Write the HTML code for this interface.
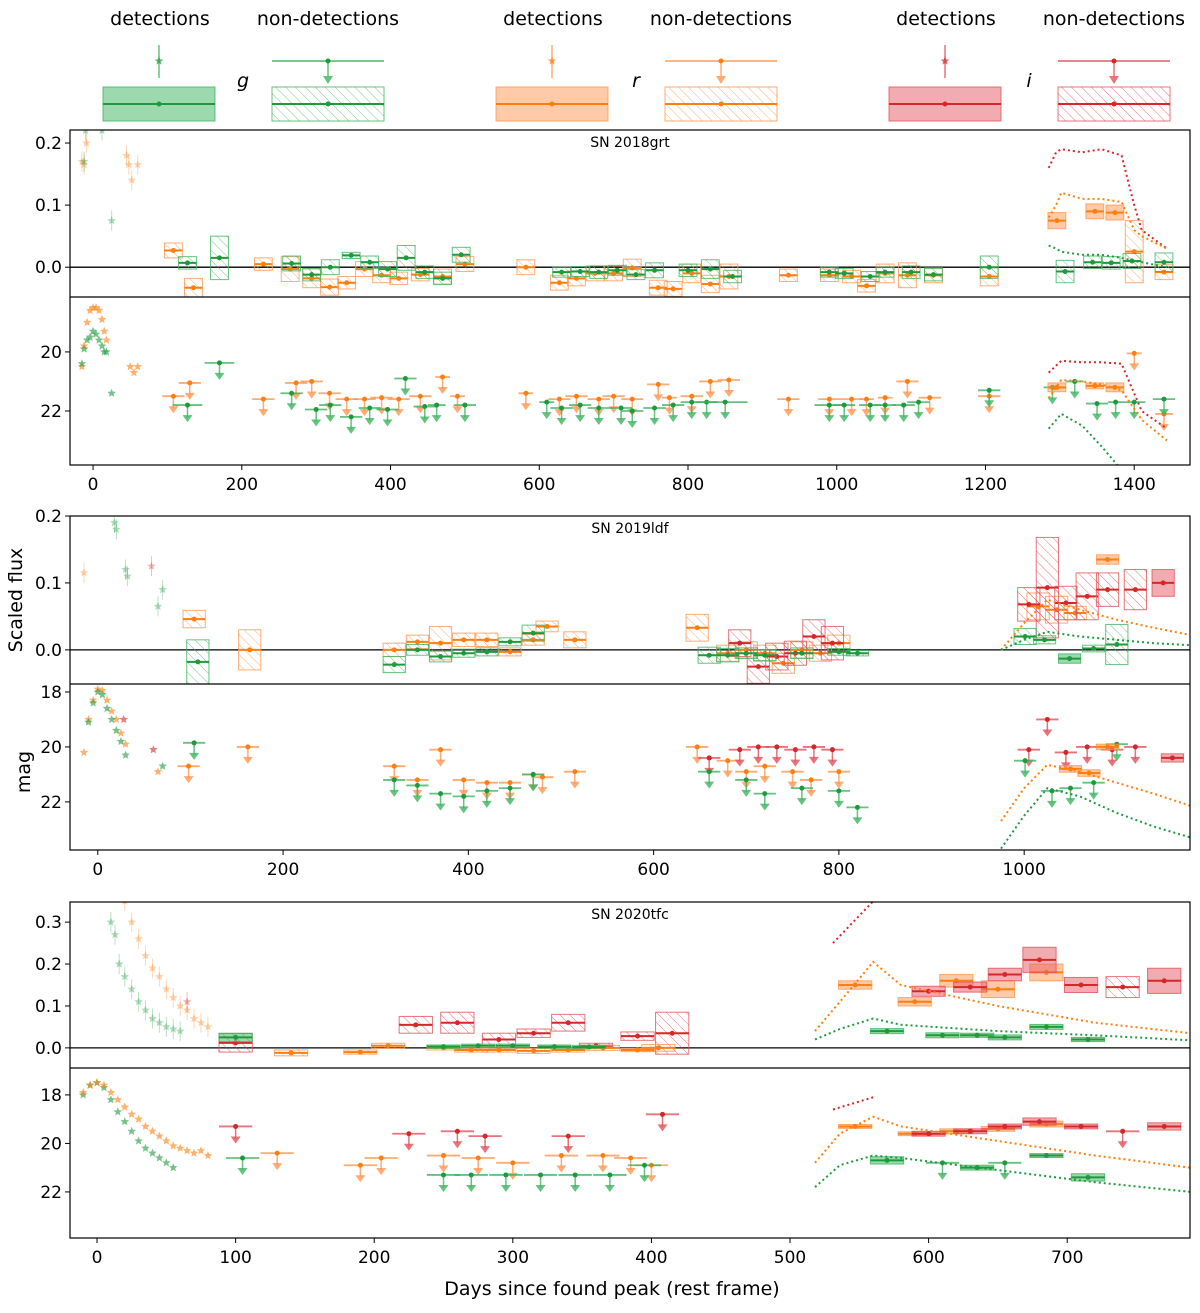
<!DOCTYPE html>
<html><head><meta charset="utf-8"><style>
html,body{margin:0;padding:0;background:#fff;}
svg text{font-family:"DejaVu Sans","Liberation Sans",sans-serif;}
</style></head><body>
<svg id="chart" xmlns="http://www.w3.org/2000/svg" width="1200" height="1308" viewBox="0 0 1200 1308">
<defs>
<pattern id="hat-g" patternUnits="userSpaceOnUse" width="7" height="7" patternTransform="rotate(-45)"><line x1="0" y1="0" x2="0" y2="7" stroke="#3cb45a" stroke-opacity="0.7" stroke-width="1"/></pattern>
<pattern id="hat-r" patternUnits="userSpaceOnUse" width="7" height="7" patternTransform="rotate(-45)"><line x1="0" y1="0" x2="0" y2="7" stroke="#ff8c3a" stroke-opacity="0.7" stroke-width="1"/></pattern>
<pattern id="hat-i" patternUnits="userSpaceOnUse" width="7" height="7" patternTransform="rotate(-45)"><line x1="0" y1="0" x2="0" y2="7" stroke="#dc3c46" stroke-opacity="0.7" stroke-width="1"/></pattern>
</defs>
<g id="legend"></g>
<g id="plots"></g>
<text x="0" y="0" transform="translate(22,600) rotate(-90)" text-anchor="middle" font-size="19">Scaled flux</text>
<text x="0" y="0" transform="translate(30,772) rotate(-90)" text-anchor="middle" font-size="19">mag</text>
<text x="612" y="1295" text-anchor="middle" font-size="19">Days since found peak (rest frame)</text>
</svg>
<script>
const NS="http://www.w3.org/2000/svg";
const LINE={g:"#1e9a3c",r:"#ff7f0e",i:"#d62728"};
const FILL={g:"rgba(60,180,95,0.5)",r:"rgba(255,150,80,0.5)",i:"rgba(230,90,100,0.5)"};
const EDGE={g:"rgba(60,180,95,0.8)",r:"rgba(255,150,80,0.8)",i:"rgba(225,80,90,0.8)"};

// ---------- DATA: SN 2018grt ----------
const p1FluxBins=[
[108,0.027,12,0.012,'r',0],[135,-0.033,12,0.015,'r',0],[229,0.005,12,0.01,'r',0],[265,-0.003,12,0.02,'r',0],[294,-0.018,12,0.015,'r',0],[318,-0.032,12,0.013,'r',0],[341,-0.025,12,0.01,'r',0],[365,-0.003,12,0.012,'r',0],[388,-0.013,12,0.012,'r',0],[411,-0.018,12,0.01,'r',0],[440,-0.012,12,0.01,'r',0],[470,-0.015,12,0.012,'r',0],[500,0.005,12,0.012,'r',0],[582,0.0,12,0.012,'r',0],[627,-0.025,12,0.012,'r',0],[650,-0.018,12,0.012,'r',0],[675,-0.01,12,0.012,'r',0],[700,-0.01,12,0.012,'r',0],[725,-0.001,12,0.014,'r',0],[760,-0.033,12,0.012,'r',0],[780,-0.035,12,0.012,'r',0],[805,-0.01,12,0.015,'r',0],[830,-0.027,12,0.014,'r',0],[855,-0.015,12,0.02,'r',0],[935,-0.013,12,0.01,'r',0],[990,-0.013,12,0.01,'r',0],[1020,-0.015,12,0.01,'r',0],[1040,-0.03,12,0.01,'r',0],[1065,-0.01,12,0.015,'r',0],[1095,-0.013,12,0.02,'r',0],[1130,-0.013,12,0.012,'r',0],[1205,-0.015,12,0.015,'r',0],[1400,0.025,12,0.05,'r',0],[1440,-0.008,12,0.012,'r',0],
[1296,0.075,12,0.013,'r',1],[1347,0.09,12,0.012,'r',1],[1374,0.088,12,0.012,'r',1],
[127,0.007,12,0.01,'g',0],[170,0.015,12,0.035,'g',0],[267,0.006,12,0.012,'g',0],[294,-0.012,12,0.01,'g',0],[319,0.0,12,0.012,'g',0],[347,0.019,12,0.005,'g',0],[372,0.008,12,0.01,'g',0],[396,-0.003,12,0.012,'g',0],[421,0.015,12,0.02,'g',0],[446,-0.008,12,0.01,'g',0],[470,-0.018,12,0.01,'g',0],[495,0.02,12,0.012,'g',0],[630,-0.008,12,0.008,'g',0],[655,-0.007,12,0.008,'g',0],[680,-0.008,12,0.01,'g',0],[705,-0.005,12,0.008,'g',0],[730,-0.012,12,0.008,'g',0],[755,-0.005,12,0.012,'g',0],[800,-0.005,12,0.01,'g',0],[830,-0.003,12,0.015,'g',0],[860,-0.015,12,0.01,'g',0],[990,-0.008,12,0.008,'g',0],[1010,-0.01,12,0.008,'g',0],[1045,-0.015,12,0.008,'g',0],[1065,-0.008,12,0.008,'g',0],[1100,-0.008,12,0.01,'g',0],[1130,-0.012,12,0.01,'g',0],[1205,0.0,12,0.018,'g',0],[1307,-0.007,12,0.018,'g',0],[1344,0.008,12,0.01,'g',0],[1369,0.007,12,0.01,'g',0],[1397,0.01,12,0.012,'g',0],[1440,0.008,12,0.015,'g',0]];
const p1MagLimits=[
[108,21.5,15,'r'],[130,21.05,15,'r'],[229,21.6,15,'r'],[273,21.05,15,'r'],[294,21.0,15,'r'],[318,21.4,15,'r'],[341,21.6,15,'r'],[365,21.6,15,'r'],[388,21.55,15,'r'],[411,21.6,15,'r'],[440,21.5,15,'r'],[470,20.85,10,'r'],[490,21.5,10,'r'],[582,21.4,10,'r'],[627,21.6,15,'r'],[650,21.5,15,'r'],[680,21.6,15,'r'],[700,21.5,15,'r'],[725,21.6,15,'r'],[760,21.1,15,'r'],[775,21.55,10,'r'],[805,21.5,15,'r'],[830,21.0,15,'r'],[855,20.95,15,'r'],[935,21.6,15,'r'],[990,21.6,15,'r'],[1020,21.6,15,'r'],[1040,21.6,10,'r'],[1065,21.55,10,'r'],[1095,21.0,15,'r'],[1125,21.55,15,'r'],[1205,21.5,15,'r'],[1400,20.05,10,'r'],[1440,22.1,12,'r'],
[127,21.8,20,'g'],[170,20.37,20,'g'],[267,21.4,15,'g'],[300,21.95,15,'g'],[319,21.8,15,'g'],[347,22.2,15,'g'],[372,21.9,15,'g'],[396,21.95,15,'g'],[420,20.9,15,'g'],[446,21.85,15,'g'],[462,21.8,12,'g'],[500,21.8,15,'g'],[610,21.7,10,'g'],[630,21.9,15,'g'],[655,21.8,15,'g'],[680,21.9,15,'g'],[710,21.9,15,'g'],[725,22.0,15,'g'],[755,21.9,15,'g'],[780,21.8,15,'g'],[805,21.7,15,'g'],[825,21.7,15,'g'],[850,21.7,30,'g'],[990,21.8,20,'g'],[1010,21.8,15,'g'],[1045,21.8,15,'g'],[1065,21.8,15,'g'],[1090,21.8,15,'g'],[1110,21.7,15,'g'],[1205,21.3,15,'g'],[1290,21.2,12,'g'],[1320,21.0,12,'g'],[1350,21.75,15,'g'],[1375,21.7,10,'g'],[1400,21.7,15,'g'],[1440,21.6,15,'g']];
const p1MagDets=[[1296,21.2,12,0.15,'r'],[1347,21.15,12,0.1,'r'],[1374,21.2,12,0.15,'r']];
const p1FluxStars=[[-15,0.17,'r'],[-12,0.165,'r'],[-9,0.2,'r'],[45,0.18,'r'],[48,0.165,'r'],[52,0.14,'r'],[60,0.165,'r'],[-12,0.17,'g'],[-10,0.22,'g'],[25,0.075,'g'],[12,0.22,'g']];
const p1MagStars=[[-15,20.5,'r'],[-12,19.8,'r'],[-8,19.0,'r'],[-4,18.6,'r'],[0,18.5,'r'],[4,18.5,'r'],[8,18.6,'r'],[12,18.9,'r'],[15,19.3,'r'],[18,19.6,'r'],[50,20.5,'r'],[55,20.7,'r'],[60,20.5,'r'],
[-15,20.4,'g'],[-12,19.9,'g'],[-8,19.6,'g'],[-4,19.5,'g'],[0,19.3,'g'],[4,19.4,'g'],[8,19.6,'g'],[12,19.8,'g'],[15,20.0,'g'],[18,20.0,'g'],[25,21.4,'g']];
const p1FluxModelDays=[1285,1295,1302,1330,1356,1383,1400,1410,1444];
const p1FluxModelI=[0.16,0.185,0.19,0.185,0.19,0.18,0.1,0.06,0.03];
const p1FluxModelR=[0.08,0.1,0.12,0.11,0.11,0.105,0.06,0.05,0.03];
const p1FluxModelG=[0.035,0.03,0.025,0.02,0.02,0.015,0.01,0.008,0.0];
const p1MagModelDays=[1285,1302,1330,1356,1383,1410,1444];
const p1MagModelI=[20.7,20.3,20.35,20.35,20.4,22.0,22.6];
const p1MagModelR=[21.56,20.95,21.0,21.1,21.3,22.3,23.0];
const p1MagModelG=[22.6,22.1,22.5,23.2,24.0,24.5,25];

// ---------- DATA: SN 2019ldf ----------
const p2FluxBins=[
[104,0.046,12,0.013,'r',0],[164,0.0,12,0.03,'r',0],[320,0.0,12,0.01,'r',0],[345,0.012,12,0.01,'r',0],[370,0.01,12,0.025,'r',0],[395,0.015,12,0.01,'r',0],[420,0.015,12,0.01,'r',0],[445,-0.003,12,0.006,'r',0],[470,0.015,12,0.008,'r',0],[485,0.035,12,0.008,'r',0],[515,0.015,12,0.012,'r',0],[647,0.033,12,0.02,'r',0],[655,-0.07,12,0.015,'r',0],[680,-0.005,12,0.012,'r',0],[700,0.0,12,0.012,'r',0],[720,-0.005,12,0.012,'r',0],[740,-0.02,12,0.015,'r',0],[760,0.0,12,0.012,'r',0],[780,-0.005,12,0.012,'r',0],[800,0.01,12,0.012,'r',0],[1015,0.065,12,0.02,'r',0],[1035,0.06,12,0.02,'r',0],[1055,0.055,12,0.01,'r',0],[1090,0.135,12,0.007,'r',1],
[693,0.01,12,0.02,'i',0],[713,-0.025,12,0.025,'i',0],[733,-0.01,12,0.02,'i',0],[753,-0.005,12,0.018,'i',0],[773,0.02,12,0.025,'i',0],[793,0.01,12,0.025,'i',0],[1005,0.068,12,0.025,'i',0],[1025,0.093,12,0.075,'i',0],[1045,0.07,12,0.025,'i',0],[1068,0.08,12,0.035,'i',0],[1090,0.09,12,0.025,'i',0],[1120,0.09,12,0.03,'i',0],[1150,0.1,12,0.02,'i',1],
[108,-0.018,12,0.033,'g',0],[320,-0.022,12,0.012,'g',0],[345,0.0,12,0.008,'g',0],[370,-0.01,12,0.008,'g',0],[395,-0.005,12,0.006,'g',0],[420,-0.003,12,0.006,'g',0],[445,0.012,12,0.006,'g',0],[470,0.025,12,0.012,'g',0],[660,-0.008,12,0.012,'g',0],[680,-0.008,12,0.01,'g',0],[700,-0.005,12,0.008,'g',0],[720,-0.008,12,0.008,'g',0],[760,-0.005,12,0.008,'g',0],[800,-0.003,12,0.005,'g',0],[820,-0.005,12,0.004,'g',0],[1001,0.02,12,0.012,'g',0],[1022,0.015,12,0.006,'g',0],[1049,-0.013,12,0.007,'g',1],[1075,0.002,12,0.005,'g',0],[1100,0.008,12,0.03,'g',0]];
const p2MagLimits=[
[98,20.7,12,'r'],[162,20.0,12,'r'],[320,20.7,12,'r'],[345,21.2,12,'r'],[370,20.1,12,'r'],[395,21.2,12,'r'],[420,21.3,12,'r'],[445,21.3,12,'r'],[470,21.0,12,'r'],[480,21.1,12,'r'],[515,20.9,12,'r'],[647,20.0,12,'r'],[680,20.5,12,'r'],[700,20.9,12,'r'],[720,20.7,12,'r'],[750,20.9,12,'r'],[770,21.2,12,'r'],[800,20.9,12,'r'],
[660,20.4,12,'i'],[693,20.1,12,'i'],[713,20.0,12,'i'],[733,20.0,12,'i'],[753,20.1,12,'i'],[773,20.0,12,'i'],[793,20.1,12,'i'],[1005,20.1,12,'i'],[1025,19.0,12,'i'],[1045,20.2,12,'i'],[1068,20.0,12,'i'],[1095,20.1,12,'i'],[1120,20.0,12,'i'],
[104,19.85,12,'g'],[320,21.2,12,'g'],[345,21.4,12,'g'],[370,21.7,12,'g'],[395,21.8,12,'g'],[420,21.6,12,'g'],[445,21.5,12,'g'],[470,21.0,12,'g'],[660,20.9,12,'g'],[700,21.2,12,'g'],[720,21.7,12,'g'],[760,21.5,12,'g'],[800,21.6,12,'g'],[820,22.2,12,'g'],[1001,20.5,12,'g'],[1030,21.6,12,'g'],[1050,21.5,12,'g'],[1075,21.3,12,'g'],[1100,19.9,12,'g']];
const p2MagDets=[[1050,20.8,12,0.12,'r'],[1070,20.95,12,0.12,'r'],[1090,20.0,12,0.1,'r'],[1160,20.4,12,0.15,'i']];
const p2FluxStars=[[-15,0.115,'r'],[18,0.19,'g'],[20,0.18,'g'],[30,0.12,'g'],[32,0.11,'g'],[58,0.125,'i'],[65,0.065,'g'],[70,0.09,'g']];
const p2MagStars=[[-15,20.2,'r'],[-10,19.0,'r'],[-5,18.3,'r'],[0,17.9,'r'],[5,17.95,'r'],[10,18.3,'r'],[15,18.7,'r'],[20,19.0,'r'],[25,19.5,'r'],[30,19.9,'r'],[65,20.9,'r'],
[-10,19.1,'g'],[-5,18.4,'g'],[0,18.0,'g'],[5,18.1,'g'],[10,18.6,'g'],[15,19.0,'g'],[20,19.4,'g'],[25,19.8,'g'],[30,20.3,'g'],[70,20.7,'g'],[28,19.0,'i'],[60,20.1,'i']];
const p2FluxModelDays=[975,1000,1025,1060,1100,1140,1180];
const p2FluxModelR=[0.0,0.04,0.075,0.06,0.045,0.033,0.022];
const p2FluxModelG=[0.0,0.015,0.027,0.02,0.015,0.01,0.007];
const p2MagModelDays=[975,1000,1025,1060,1100,1140,1180];
const p2MagModelR=[22.7,21.5,20.65,20.9,21.3,21.7,22.15];
const p2MagModelG=[23.7,22.5,21.5,21.8,22.4,22.9,23.3];

// ---------- DATA: SN 2020tfc ----------
const p3FluxBins=[
[100,0.012,12,0.022,'i',0],[100,0.025,12,0.01,'g',1],[140,-0.012,12,0.007,'r',0],[190,-0.01,12,0.005,'r',0],[210,0.005,12,0.006,'r',0],[230,0.055,12,0.02,'i',0],[260,0.06,12,0.025,'i',0],[290,0.02,12,0.015,'i',0],[315,0.035,12,0.01,'i',0],[340,0.06,12,0.02,'i',0],[360,0.005,12,0.006,'i',0],[390,0.028,12,0.01,'i',0],[415,0.035,12,0.05,'i',0],
[250,0.0,12,0.005,'r',0],[270,-0.005,12,0.005,'r',0],[290,-0.005,12,0.005,'r',0],[315,-0.007,12,0.006,'r',0],[340,-0.005,12,0.005,'r',0],[365,0.0,12,0.006,'r',0],[390,-0.005,12,0.004,'r',0],[405,0.0,12,0.008,'r',0],
[250,0.003,12,0.004,'g',0],[275,0.005,12,0.004,'g',0],[300,0.005,12,0.004,'g',0],[330,0.003,12,0.004,'g',0],[355,0.002,12,0.004,'g',0],
[547,0.15,12,0.01,'r',1],[590,0.11,12,0.01,'r',1],[620,0.16,12,0.015,'r',1],[650,0.14,12,0.02,'r',1],[685,0.18,12,0.02,'r',1],
[600,0.135,12,0.012,'i',1],[630,0.145,12,0.012,'i',1],[655,0.175,12,0.015,'i',1],[680,0.21,12,0.03,'i',1],[710,0.15,12,0.018,'i',1],[740,0.145,12,0.025,'i',0],[770,0.16,12,0.03,'i',1],
[570,0.04,12,0.006,'g',1],[610,0.03,12,0.006,'g',1],[635,0.03,12,0.005,'g',1],[655,0.025,12,0.006,'g',1],[685,0.05,12,0.006,'g',1],[715,0.02,12,0.005,'g',1]];
const p3MagLimits=[
[100,19.3,12,'i'],[225,19.6,12,'i'],[260,19.5,12,'i'],[280,19.7,12,'i'],[340,19.7,12,'i'],[408,18.8,12,'i'],[740,19.5,12,'i'],
[130,20.4,12,'r'],[190,20.9,12,'r'],[205,20.6,12,'r'],[250,20.5,12,'r'],[275,20.6,12,'r'],[300,20.8,12,'r'],[335,20.5,12,'r'],[365,20.5,12,'r'],[385,20.6,12,'r'],[400,20.9,12,'r'],
[105,20.6,12,'g'],[250,21.3,12,'g'],[270,21.3,12,'g'],[295,21.3,12,'g'],[320,21.3,12,'g'],[345,21.3,12,'g'],[370,21.3,12,'g'],[395,20.9,12,'g'],[610,20.8,12,'g'],[655,20.8,12,'g']];
const p3MagDets=[[547,19.3,12,0.08,'r'],[590,19.6,12,0.08,'r'],[620,19.5,12,0.1,'r'],[650,19.4,12,0.1,'r'],[685,19.2,12,0.12,'r'],[600,19.6,12,0.1,'i'],[630,19.5,12,0.1,'i'],[655,19.3,12,0.1,'i'],[680,19.1,12,0.15,'i'],[710,19.3,12,0.1,'i'],[770,19.3,12,0.15,'i'],[570,20.7,12,0.15,'g'],[635,21.0,12,0.1,'g'],[685,20.5,12,0.08,'g'],[715,21.4,12,0.15,'g']];
const p3FluxStars=[[10,0.3,'g'],[13,0.27,'g'],[16,0.2,'g'],[20,0.17,'g'],[25,0.14,'g'],[30,0.11,'g'],[35,0.09,'g'],[40,0.07,'g'],[45,0.06,'g'],[50,0.05,'g'],[55,0.045,'g'],[60,0.04,'g'],
[20,0.35,'r'],[25,0.3,'r'],[30,0.26,'r'],[35,0.22,'r'],[40,0.19,'r'],[45,0.17,'r'],[50,0.14,'r'],[55,0.12,'r'],[60,0.1,'r'],[65,0.09,'r'],[70,0.07,'r'],[75,0.06,'r'],[80,0.05,'r'],[65,0.11,'i']];
const p3MagStars=[[-10,18.0,'g'],[-5,17.6,'g'],[0,17.5,'g'],[5,17.7,'g'],[10,18.2,'g'],[15,18.7,'g'],[20,19.1,'g'],[25,19.5,'g'],[30,19.9,'g'],[35,20.2,'g'],[40,20.4,'g'],[45,20.6,'g'],[50,20.8,'g'],[55,21.0,'g'],
[-10,17.9,'r'],[-5,17.6,'r'],[0,17.5,'r'],[5,17.6,'r'],[10,17.9,'r'],[15,18.2,'r'],[20,18.5,'r'],[25,18.8,'r'],[30,19.0,'r'],[35,19.3,'r'],[40,19.5,'r'],[45,19.7,'r'],[50,19.9,'r'],[55,20.1,'r'],[60,20.2,'r'],[65,20.3,'r'],[70,20.4,'r'],[75,20.3,'r'],[80,20.5,'r']];
const p3FluxModelDays=[518,536,560,580,650,720,789];
const p3FluxModelR=[0.04,0.11,0.205,0.15,0.1,0.06,0.035];
const p3FluxModelG=[0.02,0.045,0.07,0.055,0.04,0.03,0.018];
const p3FluxModelIDays=[531,560];
const p3FluxModelI=[0.25,0.35];
const p3MagModelDays=[518,536,560,580,650,720,789];
const p3MagModelR=[20.8,19.6,18.9,19.3,19.9,20.5,21.0];
const p3MagModelG=[21.8,20.9,20.5,20.6,21.1,21.6,22.0];
const p3MagModelIDays=[531,560];
const p3MagModelI=[18.6,18.1];

// ---------- LAYOUT ----------
const panels=[
{name:'sn-2018grt',title:'SN 2018grt',x0:-31,x1:1475,top:130,mid:297,bot:465,f0:-0.048,f1:0.221,m0:18.14,m1:23.83,xt:[0,200,400,600,800,1000,1200,1400],ft:[0,0.1,0.2],mt:[20,22],fd:1,
 bins:p1FluxBins,lim:p1MagLimits,mdet:p1MagDets,fs:p1FluxStars,ms:p1MagStars,
 fmod:[[p1FluxModelDays,p1FluxModelI,'i'],[p1FluxModelDays,p1FluxModelR,'r'],[p1FluxModelDays,p1FluxModelG,'g']],
 mmod:[[p1MagModelDays,p1MagModelI,'i'],[p1MagModelDays,p1MagModelR,'r'],[p1MagModelDays,p1MagModelG,'g']]},
{name:'sn-2019ldf',title:'SN 2019ldf',x0:-30,x1:1179,top:516,mid:684,bot:850,f0:-0.051,f1:0.2,m0:17.71,m1:23.75,xt:[0,200,400,600,800,1000],ft:[0,0.1,0.2],mt:[18,20,22],fd:1,
 bins:p2FluxBins,lim:p2MagLimits,mdet:p2MagDets,fs:p2FluxStars,ms:p2MagStars,
 fmod:[[p2FluxModelDays,p2FluxModelR,'r'],[p2FluxModelDays,p2FluxModelG,'g']],
 mmod:[[p2MagModelDays,p2MagModelR,'r'],[p2MagModelDays,p2MagModelG,'g']]},
{name:'sn-2020tfc',title:'SN 2020tfc',x0:-19.5,x1:788.6,top:902,mid:1068,bot:1238,f0:-0.048,f1:0.348,m0:16.89,m1:23.9,xt:[0,100,200,300,400,500,600,700],ft:[0,0.1,0.2,0.3],mt:[18,20,22],fd:1,
 bins:p3FluxBins,lim:p3MagLimits,mdet:p3MagDets,fs:p3FluxStars,ms:p3MagStars,
 fmod:[[p3FluxModelIDays,p3FluxModelI,'i'],[p3FluxModelDays,p3FluxModelR,'r'],[p3FluxModelDays,p3FluxModelG,'g']],
 mmod:[[p3MagModelIDays,p3MagModelI,'i'],[p3MagModelDays,p3MagModelR,'r'],[p3MagModelDays,p3MagModelG,'g']]}
];
const XL=70,XR=1190;

function el(tag,attrs,parent){const e=document.createElementNS(NS,tag);for(const k in attrs)e.setAttribute(k,attrs[k]);if(parent)parent.appendChild(e);return e;}
function starPath(cx,cy,r){let d='';for(let k=0;k<10;k++){const a=-Math.PI/2+k*Math.PI/5;const rr=k%2?r*0.45:r;d+=(k?'L':'M')+(cx+rr*Math.cos(a)).toFixed(1)+','+(cy+rr*Math.sin(a)).toFixed(1);}return d+'Z';}

const plots=document.getElementById('plots');
panels.forEach((P,pi)=>{
  const X=d=>XL+(d-P.x0)/(P.x1-P.x0)*(XR-XL);
  const YF=f=>P.mid-(f-P.f0)/(P.f1-P.f0)*(P.mid-P.top);
  const YM=m=>P.mid+(m-P.m0)/(P.m1-P.m0)*(P.bot-P.mid);
  const g=el('g',{},plots);
  
  
  const cf='clipf'+pi, cm='clipm'+pi;
  const defs=el('defs',{},g);
  const c1=el('clipPath',{id:cf},defs);el('rect',{x:XL,y:P.top,width:XR-XL,height:P.mid-P.top},c1);
  const c2=el('clipPath',{id:cm},defs);el('rect',{x:XL,y:P.mid,width:XR-XL,height:P.bot-P.mid},c2);
  const gf=el('g',{'clip-path':'url(#'+cf+')'},g);
  
  
  const gm=el('g',{'clip-path':'url(#'+cm+')'},g);
  
  
  // zero line
  const zl=el('line',{x1:XL,x2:XR,y1:YF(0),y2:YF(0),stroke:'#000','stroke-width':1.3},gf);
  
  
  // flux bins
  P.bins.forEach(b=>{
    const [d,f,hw,he,band,det]=b;
    const x1=X(d-hw),x2=X(d+hw),y1=YF(f+he),y2=YF(f-he);
    const bg=el('g',{},gf);
    
    
    el('rect',{x:x1,y:y1,width:x2-x1,height:Math.max(1,y2-y1),fill:det?FILL[band]:'url(#hat-'+band+')',stroke:EDGE[band],'stroke-width':1},bg);
    el('line',{x1:x1,x2:x2,y1:YF(f),y2:YF(f),stroke:LINE[band],'stroke-width':2},bg);
    el('circle',{cx:X(d),cy:YF(f),r:2.5,fill:LINE[band]},bg);
  });
  // flux stars
  P.fs.forEach(s=>{
    const p=el('path',{d:starPath(X(s[0]),YF(s[1]),4.5),fill:LINE[s[2]],'fill-opacity':0.35},gf);
    
    
    el('line',{x1:X(s[0]),x2:X(s[0]),y1:YF(s[1])-10,y2:YF(s[1])+10,stroke:LINE[s[2]],'stroke-opacity':0.3},gf);
  });
  // flux models
  P.fmod.forEach(m=>{
    const pts=m[0].map((d,k)=>X(d).toFixed(1)+','+YF(m[1][k]).toFixed(1)).join(' ');
    const pl=el('polyline',{points:pts,fill:'none',stroke:LINE[m[2]],'stroke-width':2,'stroke-dasharray':'2,3'},gf);
    
    
  });
  // mag upper limits
  P.lim.forEach(l=>{
    const [d,m,hw,band]=l;
    const lg=el('g',{stroke:EDGE[band],fill:EDGE[band]},gm);
    
    
    const y=YM(m),x=X(d);
    el('line',{x1:X(d-hw),x2:X(d+hw),y1:y,y2:y,'stroke-width':1.8},lg);
    el('line',{x1:x,x2:x,y1:y,y2:y+12,'stroke-width':1.5},lg);
    el('path',{d:`M${x-5},${y+10}L${x+5},${y+10}L${x},${y+17}Z`,stroke:'none'},lg);
    el('circle',{cx:x,cy:y,r:2.5,stroke:'none',fill:LINE[band]},lg);
  });
  // mag detections
  P.mdet.forEach(b=>{
    const [d,m,hw,he,band]=b;
    const x1=X(d-hw),x2=X(d+hw);
    const bg=el('g',{},gm);
    
    
    el('rect',{x:x1,y:YM(m-he),width:x2-x1,height:Math.max(2,YM(m+he)-YM(m-he)),fill:FILL[band],stroke:EDGE[band]},bg);
    el('line',{x1:x1,x2:x2,y1:YM(m),y2:YM(m),stroke:LINE[band],'stroke-width':2},bg);
    el('circle',{cx:X(d),cy:YM(m),r:2.5,fill:LINE[band]},bg);
  });
  P.ms.forEach(s=>{
    const p=el('path',{d:starPath(X(s[0]),YM(s[1]),4.5),fill:LINE[s[2]],'fill-opacity':0.6},gm);
    
    
  });
  P.mmod.forEach(m=>{
    const pts=m[0].map((d,k)=>X(d).toFixed(1)+','+YM(m[1][k]).toFixed(1)).join(' ');
    const pl=el('polyline',{points:pts,fill:'none',stroke:LINE[m[2]],'stroke-width':2,'stroke-dasharray':'2,3'},gm);
    
    
  });
  // frames
  const fr=el('rect',{x:XL,y:P.top,width:XR-XL,height:P.bot-P.top,fill:'none',stroke:'#000','stroke-width':1.2},g);
  
  
  el('line',{x1:XL,x2:XR,y1:P.mid,y2:P.mid,stroke:'#000','stroke-width':1.2},g);
  const tt=el('text',{x:(XL+XR)/2,y:P.top+17,'text-anchor':'middle','font-size':14},g);
  tt.textContent=P.title;
  
  
  P.xt.forEach(t=>{
    el('line',{x1:X(t),x2:X(t),y1:P.bot,y2:P.bot+5,stroke:'#000'},g);
    const tx=el('text',{x:X(t),y:P.bot+25,'text-anchor':'middle','font-size':17},g);
    tx.textContent=t;
    
    
  });
  P.ft.forEach(t=>{
    el('line',{x1:XL-5,x2:XL,y1:YF(t),y2:YF(t),stroke:'#000'},g);
    const tx=el('text',{x:XL-8,y:YF(t)+6,'text-anchor':'end','font-size':17},g);
    tx.textContent=t.toFixed(1);
    
    
  });
  P.mt.forEach(t=>{
    el('line',{x1:XL-5,x2:XL,y1:YM(t),y2:YM(t),stroke:'#000'},g);
    const tx=el('text',{x:XL-8,y:YM(t)+6,'text-anchor':'end','font-size':17},g);
    tx.textContent=t;
    
    
  });
});

// ---------- LEGEND ----------
const lgBands=['g','r','i'];
const lg=document.getElementById('legend');
lgBands.forEach((b,k)=>{
  const o=k*393;
  const gg=el('g',{transform:`translate(${o},0)`},lg);
  
  
  const t1=el('text',{x:160,y:25,'text-anchor':'middle','font-size':19},gg);t1.textContent='detections';
  const t2=el('text',{x:328,y:25,'text-anchor':'middle','font-size':19},gg);t2.textContent='non-detections';
  const t3=el('text',{x:243,y:87,'text-anchor':'middle','font-size':19,'font-style':'italic'},gg);t3.textContent=b;
  el('line',{x1:159,x2:159,y1:45,y2:78,stroke:EDGE[b],'stroke-width':1.5},gg);
  el('path',{d:starPath(159,61,4.5),fill:LINE[b],'fill-opacity':0.7},gg);
  el('rect',{x:103,y:87,width:112,height:34,fill:FILL[b],stroke:EDGE[b]},gg);
  el('line',{x1:103,x2:215,y1:104,y2:104,stroke:LINE[b],'stroke-width':2},gg);
  el('circle',{cx:159,cy:104,r:2.5,fill:LINE[b]},gg);
  el('line',{x1:272,x2:384,y1:61,y2:61,stroke:EDGE[b],'stroke-width':1.8},gg);
  el('line',{x1:328,x2:328,y1:61,y2:76,stroke:EDGE[b],'stroke-width':1.5},gg);
  el('path',{d:'M323,76L333,76L328,84Z',fill:EDGE[b]},gg);
  el('circle',{cx:328,cy:61,r:2.5,fill:LINE[b]},gg);
  el('rect',{x:272,y:87,width:112,height:34,fill:'url(#hat-'+b+')',stroke:EDGE[b]},gg);
  el('line',{x1:272,x2:384,y1:104,y2:104,stroke:LINE[b],'stroke-width':2},gg);
  el('circle',{cx:328,cy:104,r:2.5,fill:LINE[b]},gg);
});
</script>
</body></html>
